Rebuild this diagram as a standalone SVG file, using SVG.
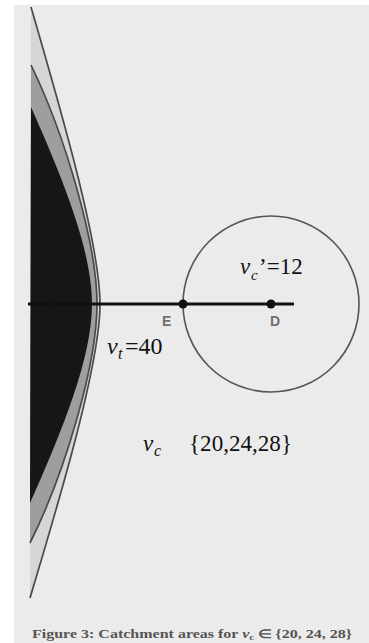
<svg xmlns="http://www.w3.org/2000/svg" width="369" height="643" viewBox="0 0 369 643">
<style>
.serif{font-family:"Liberation Serif","Times New Roman",serif;fill:#111}
.it{font-style:italic}
.sans{font-family:"Liberation Sans",Arial,sans-serif;fill:#707070;font-size:14px;font-weight:bold}
.curve{fill:none;stroke:#4a4a4a;stroke-width:1.7}
.dot{fill:#111}
</style>
<rect x="0" y="0" width="369" height="643" fill="#ffffff"/>
<rect x="14" y="5" width="355" height="638" fill="#ebebeb"/>
<g id="catchment-areas">
  <path d="M31,7 C60,107 100,244 100,304 C100,364 60,498 30,598 Z" fill="#d6d6d6"/>
  <path d="M31,65 C65,135 97,244 97,304 C97,364 65,473 30,543 Z" fill="#9e9e9e"/>
  <path d="M31,107 C62,177 92,250 92,304 C92,358 62,431 30,503 Z" fill="#161616"/>
  <path class="curve" d="M31,7 C60,107 100,244 100,304 C100,364 60,498 30,598"/>
  <path class="curve" d="M31,65 C65,135 97,244 97,304 C97,364 65,473 30,543"/>
</g>
<g id="connectors">
  <line x1="28" y1="304" x2="294" y2="304" stroke="#111" stroke-width="3"/>
</g>
<g id="circle-D">
  <circle cx="271" cy="304" r="88" fill="none" stroke="#555" stroke-width="1.6"/>
</g>
<g id="node-start"><circle class="dot" cx="52" cy="304" r="4"/></g>
<g id="node-E">
  <circle class="dot" cx="183" cy="304" r="4.5"/>
  <text class="sans" x="162" y="326">E</text>
</g>
<g id="node-D">
  <circle class="dot" cx="271" cy="304" r="4.5"/>
  <text class="sans" x="270" y="326">D</text>
</g>
<g id="label-vc12">
  <text class="serif it" x="240" y="274" font-size="23">v</text>
  <text class="serif it" x="251" y="280" font-size="15">c</text>
  <text class="serif" x="259" y="274" font-size="23">’=12</text>
</g>
<g id="label-vt40">
  <text class="serif it" x="107" y="354" font-size="24">v</text>
  <text class="serif it" x="118" y="359" font-size="16">t</text>
  <text class="serif" x="125" y="354" font-size="24">=40</text>
</g>
<g id="label-vc-set">
  <text class="serif it" x="143" y="451" font-size="23">v</text>
  <text class="serif it" x="154" y="456" font-size="16">c</text>
  <text class="serif" x="189" y="451" font-size="23" textLength="103" lengthAdjust="spacingAndGlyphs">{20,24,28}</text>
</g>
<g id="caption">
  <text class="serif" x="32" y="638" font-size="12" font-weight="bold" style="fill:#555" textLength="320" lengthAdjust="spacingAndGlyphs">Figure 3: Catchment areas for <tspan class="it">v</tspan><tspan font-size="8" dy="2">c</tspan><tspan dy="-2"> ∈ {20, 24, 28}</tspan></text>
</g>
</svg>
